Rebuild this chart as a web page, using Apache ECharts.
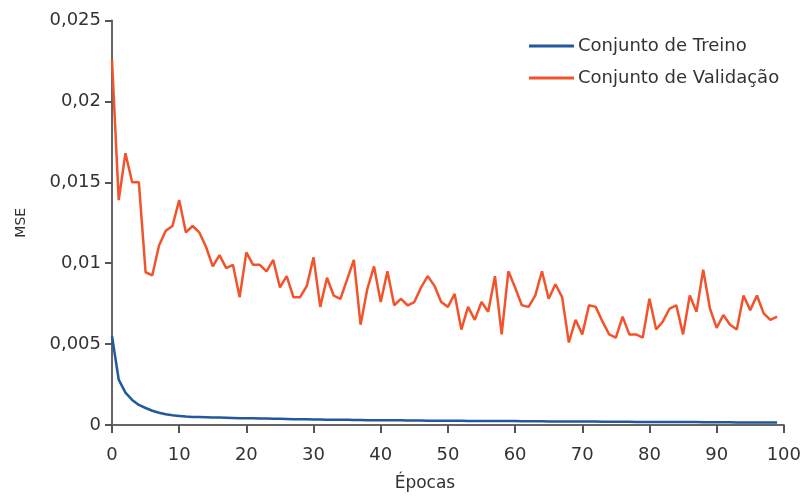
<!DOCTYPE html>
<html><head><meta charset="utf-8">
<script src="https://cdn.jsdelivr.net/npm/echarts@6/dist/echarts.min.js"></script>
<style>html,body{margin:0;padding:0;background:#fff}#c{width:804px;height:499px}</style>
</head><body><div id="c"></div>
<script>
var xTicks = [0,10,20,30,40,50,60,70,80,90,100];
var yTicks = [0,0.005,0.01,0.015,0.02,0.025];
var epochs = [];
for (var i = 0; i < 100; i++) epochs.push(i);
var treino = [0.0055,0.0028,0.0020,0.00155,0.00124,0.00105,0.00088,0.00076,0.00066,0.0006,
0.00056,0.00052,0.0005,0.00049,0.00048,0.00047,0.00046,0.00045,0.00044,0.00042,
0.00041,0.00041,0.0004,0.0004,0.00039,0.00038,0.00037,0.00036,0.00036,0.00035,
0.00034,0.00034,0.00033,0.00033,0.00032,0.00032,0.00031,0.00031,0.0003,0.0003,
0.0003,0.00029,0.00029,0.00029,0.00028,0.00028,0.00028,0.00027,0.00027,0.00027,
0.00026,0.00026,0.00026,0.00025,0.00025,0.00025,0.00025,0.00024,0.00024,0.00024,
0.00024,0.00023,0.00023,0.00023,0.00023,0.00022,0.00022,0.00022,0.00022,0.00021,
0.00021,0.00021,0.00021,0.0002,0.0002,0.0002,0.0002,0.0002,0.00019,0.00019,
0.00019,0.00019,0.00019,0.00018,0.00018,0.00018,0.00018,0.00018,0.00017,0.00017,
0.00017,0.00017,0.00017,0.00016,0.00016,0.00016,0.00016,0.00016,0.00015,0.00015];
var validacao = [0.02256,0.0139,0.0168,0.0150,0.0150,0.00944,0.00925,0.0111,0.0120,0.0123,
0.0139,0.0119,0.0123,0.0119,0.0110,0.0098,0.0105,0.0097,0.0099,0.0079,
0.01067,0.0099,0.0099,0.0095,0.0102,0.0085,0.0092,0.0079,0.0079,0.0086,
0.01036,0.0073,0.0091,0.0080,0.0078,0.0090,0.0102,0.0062,0.0084,0.0098,
0.0076,0.0095,0.0074,0.0078,0.0074,0.0076,0.0085,0.0092,0.0086,0.0076,
0.0073,0.0081,0.0059,0.0073,0.0065,0.0076,0.0070,0.0092,0.0056,0.0095,
0.0085,0.0074,0.0073,0.0080,0.0095,0.0078,0.0087,0.0079,0.0051,0.0065,
0.0056,0.0074,0.0073,0.0064,0.0056,0.0054,0.0067,0.0056,0.0056,0.0054,
0.0078,0.0059,0.0064,0.0072,0.0074,0.0056,0.0080,0.0070,0.0096,0.0072,
0.0060,0.0068,0.0062,0.0059,0.0080,0.0071,0.0080,0.0069,0.0065,0.0067];

function pairs(v){ return epochs.map(function(e,i){ return [e, v[i]]; }); }
var font = 'DejaVu Sans, sans-serif';
var chart = echarts.init(document.getElementById('c'), null, {renderer:'canvas'});
chart.setOption({
  animation:false,
  backgroundColor:'#fff',
  grid:{left:112, right:17, top:20.5, bottom:74, containLabel:false},
  legend:{
    orient:'vertical', left:524, top:32, itemWidth:45, itemHeight:3, itemGap:14,
    icon:'rect',
    textStyle:{fontFamily:font, fontSize:18, color:'#333', padding:[0,0,0,-1]},
    data:['Conjunto de Treino','Conjunto de Validação']
  },
  xAxis:{
    type:'value', min:xTicks[0], max:xTicks[xTicks.length-1], interval:10,
    name:'Épocas', nameLocation:'middle', nameGap:50,
    nameTextStyle:{fontFamily:font, fontSize:17, color:'#333', padding:[0,46,0,0]},
    axisLine:{show:true, onZero:false, lineStyle:{color:'#666', width:2}},
    axisTick:{show:true, length:8, lineStyle:{color:'#555', width:2}},
    axisLabel:{fontFamily:font, fontSize:18, color:'#333', margin:21},
    splitLine:{show:false}
  },
  yAxis:{
    type:'value', min:yTicks[0], max:yTicks[yTicks.length-1], interval:0.005,
    name:'MSE', nameLocation:'middle', nameGap:84, nameRotate:90,
    nameTextStyle:{fontFamily:font, fontSize:14, color:'#333'},
    axisLine:{show:true, lineStyle:{color:'#666', width:2}},
    axisTick:{show:true, length:7, lineStyle:{color:'#555', width:2}},
    axisLabel:{fontFamily:font, fontSize:18, color:'#333', margin:11,
      formatter:function(v){ return String(parseFloat(v.toFixed(4))).replace('.', ','); }},
    splitLine:{show:false}
  },
  series:[
    {name:'Conjunto de Treino', type:'line', data:pairs(treino), showSymbol:false,
     lineStyle:{color:'#22599c', width:2.5}, itemStyle:{color:'#22599c'}, z:3},
    {name:'Conjunto de Validação', type:'line', data:pairs(validacao), showSymbol:false,
     lineStyle:{color:'#f2532b', width:2.5}, itemStyle:{color:'#f2532b'}, z:2}
  ]
});
</script></body></html>
